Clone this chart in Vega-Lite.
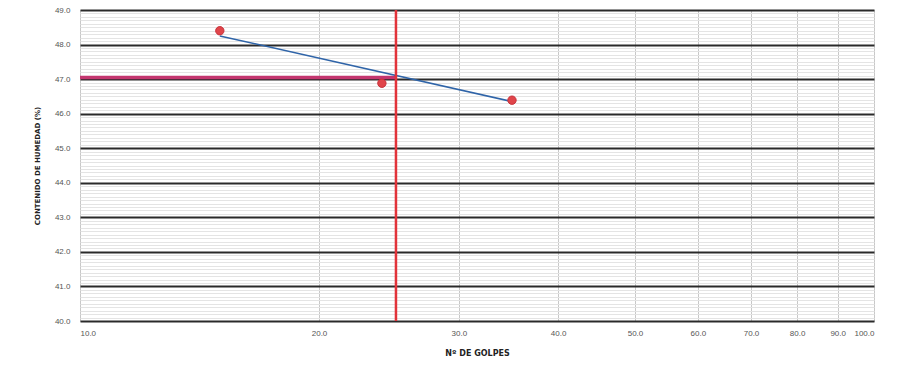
{
  "$schema": "https://vega.github.io/schema/vega-lite/v6.json",
  "autosize": {"type": "none"},
  "width": 794,
  "height": 311,
  "padding": {"left": 80, "top": 10, "right": 31, "bottom": 50},
  "background": "white",
  "config": {
    "view": {"stroke": "#b0b0b0", "strokeWidth": 1},
    "font": "Liberation Sans"
  },
  "datasets": {
    "puntos": [
      {"golpes": 15, "humedad": 48.4},
      {"golpes": 24, "humedad": 46.88},
      {"golpes": 35, "humedad": 46.39}
    ],
    "tendencia": [
      {"golpes": 15, "humedad": 48.25},
      {"golpes": 35, "humedad": 46.35}
    ],
    "limite": [
      {"golpes": 10, "golpes2": 25, "humedad": 47.05}
    ]
  },
  "layer": [
    {
      "data": {"name": "puntos"},
      "mark": {"type": "point", "opacity": 0},
      "encoding": {
        "x": {
          "field": "golpes", "type": "quantitative",
          "scale": {"type": "log", "domain": [10, 100], "nice": false},
          "axis": {
            "values": [10, 20, 30, 40, 50, 60, 70, 80, 90, 100],
            "format": ".1f",
            "title": "Nº DE GOLPES",
            "titleFont": "DejaVu Sans",
            "titleFontSize": 8,
            "titleFontWeight": "bold",
            "titleColor": "#222",
            "titlePadding": 12,
            "labelFontSize": 8,
            "labelColor": "#555",
            "labelPadding": 8,
            "labelOverlap": false,
            "ticks": false,
            "domain": false,
            "grid": true,
            "gridColor": "#c8c8c8",
            "gridWidth": 1
          }
        },
        "y": {
          "field": "humedad", "type": "quantitative",
          "scale": {"domain": [40, 49], "nice": false, "zero": false},
          "axis": {
            "orient": "left",
            "tickCount": 90,
            "labels": false,
            "ticks": false,
            "domain": false,
            "title": null,
            "grid": true,
            "gridColor": "#e4e4e4",
            "gridWidth": 1
          }
        }
      }
    },
    {
      "data": {"name": "puntos"},
      "mark": {"type": "point", "opacity": 0},
      "encoding": {
        "x": {"field": "golpes", "type": "quantitative", "scale": {"type": "log", "domain": [10, 100], "nice": false}},
        "y": {
          "field": "humedad", "type": "quantitative",
          "scale": {"domain": [40, 49], "nice": false, "zero": false},
          "axis": {
            "orient": "left",
            "values": [40, 41, 42, 43, 44, 45, 46, 47, 48, 49],
            "format": ".1f",
            "title": "CONTENIDO DE HUMEDAD (%)",
            "titleFont": "DejaVu Sans",
            "titleFontSize": 7,
            "titleFontWeight": "bold",
            "titleColor": "#222",
            "titlePadding": 14,
            "labelFontSize": 8,
            "labelColor": "#555",
            "labelPadding": 10,
            "ticks": false,
            "domain": false,
            "grid": true,
            "gridColor": "#2a2a2a",
            "gridWidth": 2
          }
        }
      }
    },
    {
      "data": {"name": "limite"},
      "mark": {"type": "rule", "color": "#c4366f", "strokeWidth": 3.5},
      "encoding": {
        "x": {"field": "golpes", "type": "quantitative", "scale": {"type": "log", "domain": [10, 100], "nice": false}},
        "x2": {"field": "golpes2"},
        "y": {"field": "humedad", "type": "quantitative", "axis": null}
      }
    },
    {
      "data": {"name": "tendencia"},
      "mark": {"type": "line", "color": "#2f64a8", "strokeWidth": 1.5},
      "encoding": {
        "x": {"field": "golpes", "type": "quantitative", "scale": {"type": "log", "domain": [10, 100], "nice": false}},
        "y": {"field": "humedad", "type": "quantitative", "axis": null}
      }
    },
    {
      "data": {"name": "limite"},
      "mark": {"type": "rule", "color": "#e2333a", "strokeWidth": 2.5},
      "encoding": {
        "x": {"field": "golpes2", "type": "quantitative", "scale": {"type": "log", "domain": [10, 100], "nice": false}}
      }
    },
    {
      "data": {"name": "puntos"},
      "mark": {"type": "point", "filled": true, "color": "#e0454a", "size": 70, "opacity": 1, "stroke": "#c8303a", "strokeWidth": 1},
      "encoding": {
        "x": {"field": "golpes", "type": "quantitative", "scale": {"type": "log", "domain": [10, 100], "nice": false}},
        "y": {"field": "humedad", "type": "quantitative", "axis": null}
      }
    }
  ],
  "resolve": {"axis": {"y": "independent"}}
}
